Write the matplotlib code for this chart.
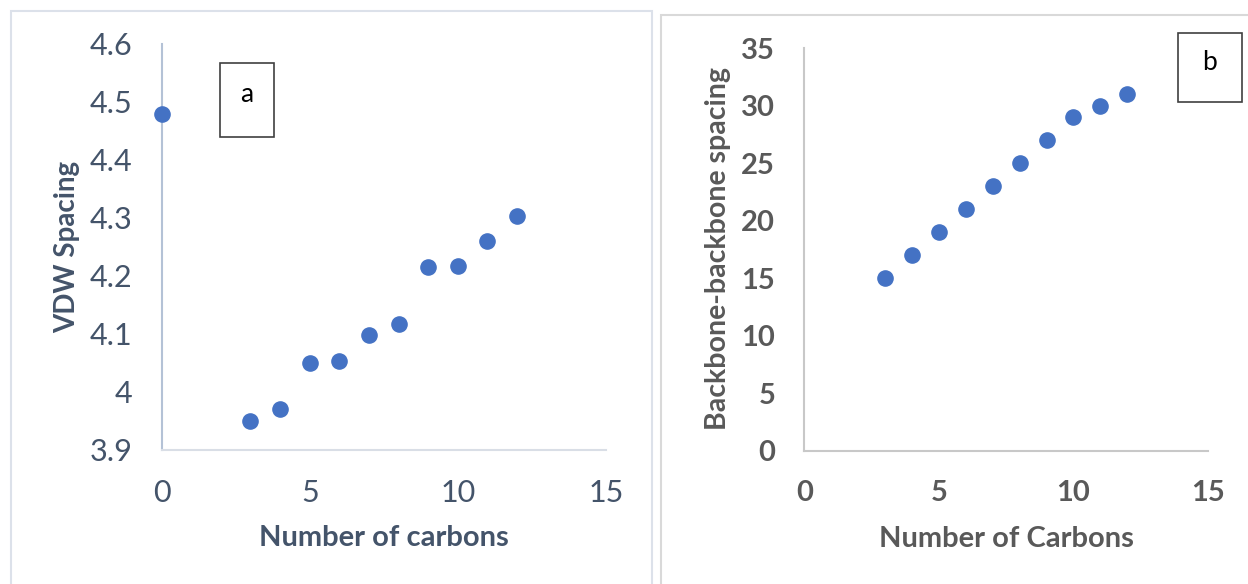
import matplotlib.pyplot as plt
from matplotlib.patches import Rectangle

# Panel a: VDW spacing vs number of carbons
carbons_a = [0, 3, 4, 5, 6, 7, 8, 9, 10, 11, 12]
vdw_spacing = [4.48, 3.95, 3.97, 4.05, 4.054, 4.099, 4.118, 4.215, 4.217, 4.26, 4.304]

# Panel b: backbone-backbone spacing vs number of carbons
carbons_b = [3, 4, 5, 6, 7, 8, 9, 10, 11, 12]
backbone_spacing = [15, 17, 19, 21, 23, 25, 27, 29, 30, 31]

xticks = [0, 5, 10, 15]
yticks_a = [3.9, 4, 4.1, 4.2, 4.3, 4.4, 4.5, 4.6]
yticks_a_labels = ["3.9", "4", "4.1", "4.2", "4.3", "4.4", "4.5", "4.6"]
yticks_b = [0, 5, 10, 15, 20, 25, 30, 35]

plt.rcParams['font.family'] = ['Lato', 'DejaVu Sans']

W, H = 1248, 584
fig = plt.figure(figsize=(W / 100, H / 100), dpi=100)

def px_axes(left, top, right, bottom):
    return fig.add_axes([left / W, 1 - bottom / H, (right - left) / W, (bottom - top) / H])

def px_box(left, top, right, bottom, color, lw):
    fig.patches.append(Rectangle((left / W, 1 - bottom / H), (right - left) / W,
                                 (bottom - top) / H, transform=fig.transFigure,
                                 fill=False, edgecolor=color, lw=lw))

# outer frames of the two panels
px_box(11, 11, 652, 600, '#DCE1EA', 1.5)
px_box(661, 15, 1260, 600, '#D9D9D9', 1.5)

blue = '#4472C4'

# ---- panel a
axa = px_axes(161.6, 44, 606, 450)
axa.scatter(carbons_a, vdw_spacing, s=120, color=blue, zorder=3, clip_on=False)
axa.set_xlim(0, 15)
axa.set_ylim(3.9, 4.6)
axa.set_xticks(xticks)
axa.set_yticks(yticks_a, labels=yticks_a_labels)
slate = '#44546A'
axa.tick_params(length=0, labelsize=22, labelcolor=slate)
axa.tick_params(axis='y', pad=21)
axa.tick_params(axis='x', pad=21)
for s in ['top', 'right']:
    axa.spines[s].set_visible(False)
axa.spines['left'].set_color('#B4C2D6')
axa.spines['left'].set_linewidth(1.5)
axa.spines['bottom'].set_color('#D9DEE6')
axa.spines['bottom'].set_linewidth(1.5)
axa.set_xlabel("Number of carbons", fontsize=21, fontweight='bold', color=slate, va='center')
axa.xaxis.set_label_coords(0.5, -0.217)
axa.set_ylabel("VDW Spacing", fontsize=20, fontweight='bold', color=slate, va='center')
axa.yaxis.set_label_coords(-0.213, 0.5)
fig.text((219.6 + 274) / 2 / W, 1 - 94 / H, "a", ha='center', va='center',
         fontsize=19, color='black')
px_box(219.6, 63.3, 274, 137, '#404040', 1.2)

# ---- panel b
axb = px_axes(804.4, 48.4, 1208, 450.6)
axb.scatter(carbons_b, backbone_spacing, s=120, color=blue, zorder=3, clip_on=False)
axb.set_xlim(0, 15)
axb.set_ylim(0, 35)
axb.set_xticks(xticks)
axb.set_yticks(yticks_b)
gray = '#595959'
axb.tick_params(length=0, labelsize=21, labelcolor=gray)
axb.tick_params(axis='y', pad=21)
axb.tick_params(axis='x', pad=21)
for lab in axb.get_xticklabels() + axb.get_yticklabels():
    lab.set_fontweight('bold')
for s in ['top', 'right']:
    axb.spines[s].set_visible(False)
for s in ['left', 'bottom']:
    axb.spines[s].set_color('#C8C8C8')
    axb.spines[s].set_linewidth(1.5)
axb.set_xlabel("Number of Carbons", fontsize=21, fontweight='bold', color=gray, va='center')
axb.xaxis.set_label_coords(0.5, -0.22)
axb.set_ylabel("Backbone-backbone spacing", fontsize=20.5, fontweight='bold', color=gray, va='center')
axb.yaxis.set_label_coords(-0.215, 0.503)
fig.text((1178 + 1242) / 2 / W, 1 - 62 / H, "b", ha='center', va='center',
         fontsize=19, color='black')
px_box(1178, 33, 1242, 102, '#404040', 1.2)

fig.savefig("out.png", dpi=100)
